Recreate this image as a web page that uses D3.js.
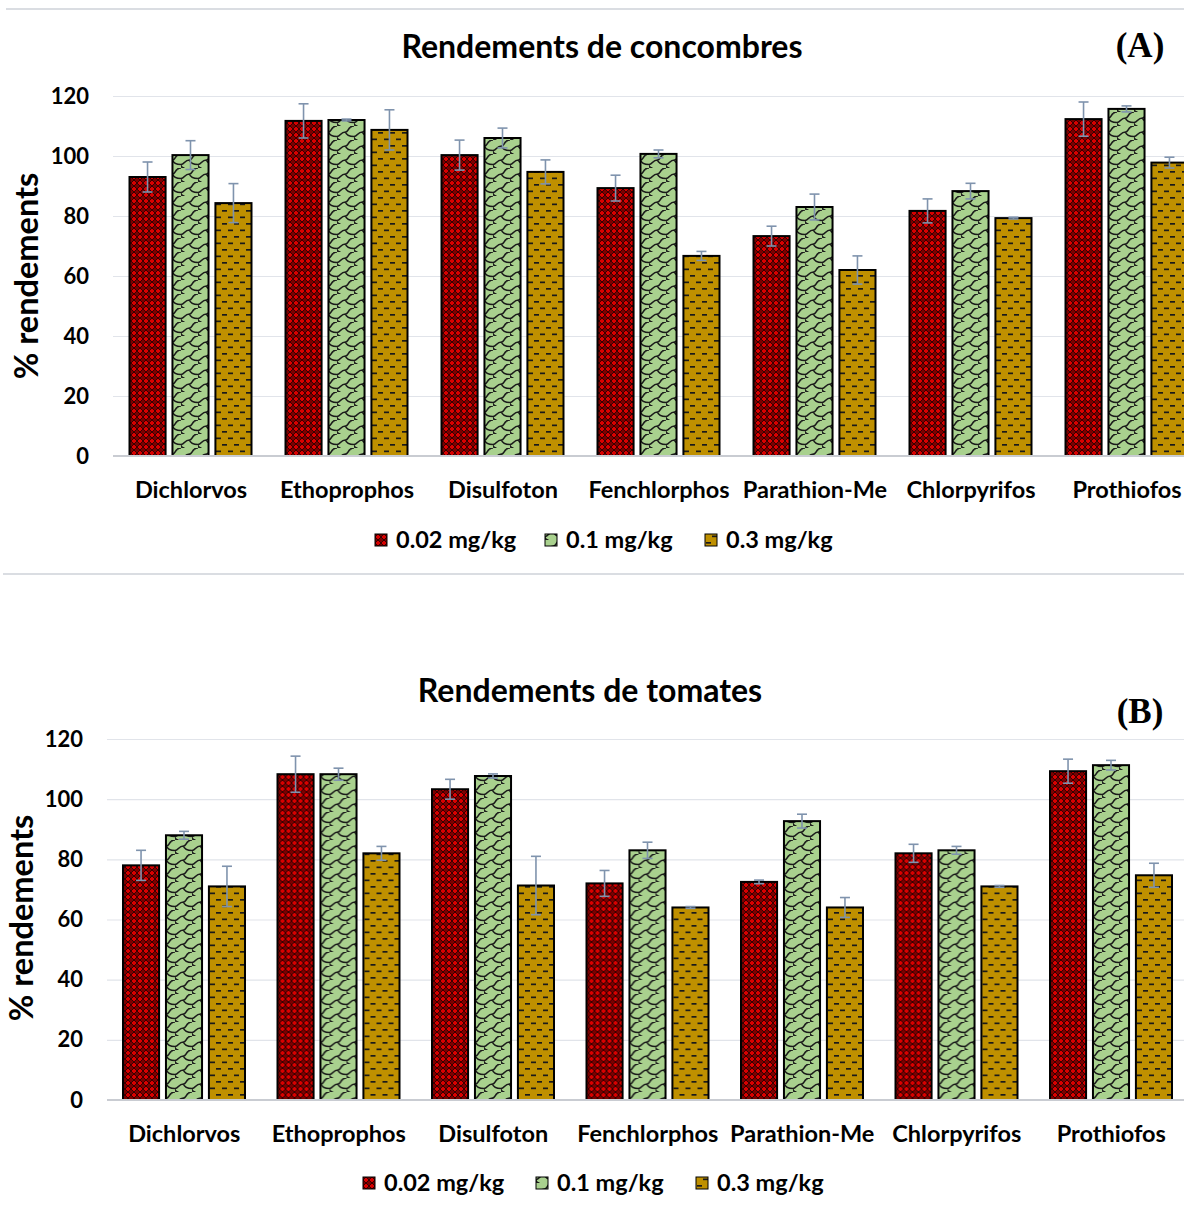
<!DOCTYPE html>
<html>
<head>
<meta charset="utf-8">
<script src="https://cdn.jsdelivr.net/npm/d3@7"></script>
<style>
  body { margin: 0; background: #fff; }
  svg { display: block; font-family: Lato, 'Open Sans', sans-serif; }
</style>
</head>
<body>
<div id="chart"></div>
<script>
// data
var categories = ['Dichlorvos', 'Ethoprophos', 'Disulfoton', 'Fenchlorphos', 'Parathion-Me', 'Chlorpyrifos', 'Prothiofos'];
var seriesLabels = ['0.02 mg/kg', '0.1 mg/kg', '0.3 mg/kg'];
var yTicks = [0, 20, 40, 60, 80, 100, 120];

// (A) concombres
var concombres002 = [93, 111.7, 100.3, 89.3, 73.3, 81.7, 112.3];
var concombres01  = [100.3, 112, 106, 100.7, 83, 88.3, 115.7];
var concombres03  = [84.3, 108.7, 94.7, 66.7, 62, 79.3, 97.8];
var concombresErr002 = [5, 5.7, 5, 4.3, 3.3, 4, 5.7];
var concombresErr01  = [4.8, 0.3, 3.3, 1.3, 4.3, 2.6, 1];
var concombresErr03  = [6.5, 6.7, 4, 1.5, 4.7, 0.3, 1.8];

// (B) tomates
var tomates002 = [78, 108.3, 103.3, 72, 72.5, 82, 109.3];
var tomates01  = [88, 108.3, 107.7, 83, 92.7, 83, 111.3];
var tomates03  = [71, 82, 71.3, 64, 64, 71, 74.7];
var tomatesErr002 = [5, 6, 3.3, 4.3, 0.6, 3, 4];
var tomatesErr01  = [1.3, 2, 0.7, 2.7, 2.3, 1.3, 1.6];
var tomatesErr03  = [6.7, 2.3, 9.7, 0.3, 3.3, 0.3, 4];

var width = 1184, height = 1209;
var fills = ['url(#patRed)', 'url(#patGreen)', 'url(#patGold)'];

var svg = d3.select('#chart').append('svg')
  .attr('width', width)
  .attr('height', height);

svg.append('rect').attr('width', width).attr('height', height).attr('fill', '#fff');

// patterns
var defs = svg.append('defs');

var pr = defs.append('pattern').attr('id', 'patRed')
  .attr('patternUnits', 'userSpaceOnUse').attr('width', 6).attr('height', 6);
pr.append('rect').attr('width', 6).attr('height', 6).attr('fill', '#7a0000');
pr.append('path').attr('d', 'M0,3L3,0L6,3L3,6Z').attr('fill', '#d80000')
  .attr('stroke', '#1a0000').attr('stroke-width', 0.8);

var pg = defs.append('pattern').attr('id', 'patGreen')
  .attr('patternUnits', 'userSpaceOnUse').attr('width', 17).attr('height', 14);
pg.append('rect').attr('width', 17).attr('height', 14).attr('fill', '#a9d18e');
pg.append('path')
  .attr('d', 'M0,10.5 C3.5,10.5 3.5,6 8.5,6 C11,6 11,2.5 13.5,1.2 M8.5,6 C9.5,9.5 13.5,10.5 17,10.5 M13.5,1.2 C14.5,0 17,0 17,0 M0,10.5 C0,13 1.2,14 3.5,14')
  .attr('fill', 'none').attr('stroke', '#1a1a1a').attr('stroke-width', 1.6);

var pd = defs.append('pattern').attr('id', 'patGold')
  .attr('patternUnits', 'userSpaceOnUse').attr('width', 12).attr('height', 13);
pd.append('rect').attr('width', 12).attr('height', 13).attr('fill', '#bf9000');
pd.append('rect').attr('x', 1).attr('y', 2).attr('width', 5).attr('height', 1.7).attr('fill', '#1a1a1a');
pd.append('rect').attr('x', 7).attr('y', 8.5).attr('width', 5).attr('height', 1.7).attr('fill', '#1a1a1a');

// frame separators
svg.append('line').attr('x1', 6).attr('x2', width).attr('y1', 9).attr('y2', 9)
  .attr('stroke', '#dadde2').attr('stroke-width', 2);
svg.append('line').attr('x1', 3).attr('x2', width).attr('y1', 574).attr('y2', 574)
  .attr('stroke', '#dadde2').attr('stroke-width', 2);

function drawPanel(p) {
  var g = svg.append('g');

  var x = d3.scaleBand().domain(categories).range([p.left, p.left + p.step * categories.length]);
  var xs = d3.scaleBand().domain(seriesLabels).range([p.groupStart, p.groupStart + 122]).paddingInner(0.16);
  var y = d3.scaleLinear().domain([0, 120]).range([p.bottom, p.top]);

  // gridlines + y labels
  var yAxis = g.append('g')
    .attr('transform', 'translate(' + p.left + ',0)')
    .call(d3.axisLeft(y).tickValues(yTicks).tickSizeInner(-(width - p.left)).tickSizeOuter(0).tickPadding(24));
  yAxis.select('.domain').remove();
  yAxis.selectAll('.tick line').attr('stroke', '#e1e4ea').attr('stroke-width', 1.2);
  yAxis.selectAll('.tick text')
    .style('font-family', 'Lato, sans-serif').style('font-size', '22px').style('font-weight', 700).attr('fill', '#000');

  // bars
  var rows = categories.map(function(c, i) {
    return p.values.map(function(v, k) {
      return { cat: c, series: seriesLabels[k], value: v[i], err: p.errors[k][i], k: k };
    });
  });

  var groups = g.selectAll('.grp').data(rows).enter().append('g')
    .attr('class', 'grp')
    .attr('transform', function(d) { return 'translate(' + x(d[0].cat) + ',0)'; });

  groups.selectAll('rect').data(function(d) { return d; }).enter().append('rect')
    .attr('x', function(d) { return xs(d.series); })
    .attr('y', function(d) { return y(d.value); })
    .attr('width', xs.bandwidth())
    .attr('height', function(d) { return y(0) - y(d.value); })
    .attr('fill', function(d) { return fills[d.k]; })
    .attr('stroke', '#000').attr('stroke-width', 2);

  // x baseline
  var xAxis = g.append('g')
    .attr('transform', 'translate(0,' + p.bottom + ')')
    .call(d3.axisBottom(x).tickSize(0).tickPadding(25));
  xAxis.select('.domain').attr('stroke', '#c9ccd2').attr('stroke-width', 2)
    .attr('d', 'M' + p.left + ',0H' + width);
  xAxis.selectAll('.tick text')
    .style('font-family', 'Lato, sans-serif').style('font-size', '23.5px').style('font-weight', 700).attr('fill', '#000');

  // error bars
  var eb = groups.selectAll('.err').data(function(d) { return d; }).enter().append('g').attr('class', 'err')
    .attr('stroke', '#7f93ad').attr('stroke-width', 1.6);
  eb.append('line')
    .attr('x1', function(d) { return xs(d.series) + xs.bandwidth() / 2; })
    .attr('x2', function(d) { return xs(d.series) + xs.bandwidth() / 2; })
    .attr('y1', function(d) { return y(d.value + d.err); })
    .attr('y2', function(d) { return y(d.value - d.err); });
  [1, -1].forEach(function(s) {
    eb.append('line')
      .attr('x1', function(d) { return xs(d.series) + xs.bandwidth() / 2 - 5; })
      .attr('x2', function(d) { return xs(d.series) + xs.bandwidth() / 2 + 5; })
      .attr('y1', function(d) { return y(d.value + s * d.err); })
      .attr('y2', function(d) { return y(d.value + s * d.err); });
  });

  // titles
  g.append('text').attr('x', p.titleX).attr('y', p.titleY).attr('text-anchor', 'middle')
    .style('font-size', '32px').style('font-weight', 700).text(p.title);
  g.append('text').attr('x', p.tagX).attr('y', p.tagY).attr('text-anchor', 'middle')
    .style('font-family', "'Liberation Serif', serif").style('font-size', '35px').style('font-weight', 700)
    .text(p.tag);
  g.append('text')
    .attr('transform', 'translate(' + p.yTitleX + ',' + p.yTitleY + ') rotate(-90)')
    .attr('text-anchor', 'middle').attr('dy', '0.35em')
    .style('font-size', '32.5px').style('font-weight', 700).text('% rendements');

  // legend
  var leg = g.selectAll('.leg').data(seriesLabels).enter().append('g').attr('class', 'leg')
    .attr('transform', function(d, i) { return 'translate(' + p.legendX[i] + ',' + p.legendY + ')'; });
  leg.append('rect').attr('x', 0).attr('y', -6).attr('width', 12).attr('height', 12)
    .attr('fill', function(d, i) { return fills[i]; }).attr('stroke', '#000').attr('stroke-width', 1);
  leg.append('text').attr('x', 21).attr('dy', '0.36em')
    .style('font-size', '23.5px').style('font-weight', 700).text(function(d) { return d; });
}

drawPanel({
  title: 'Rendements de concombres', tag: '(A)',
  values: [concombres002, concombres01, concombres03],
  errors: [concombresErr002, concombresErr01, concombresErr03],
  left: 113, step: 156, groupStart: 16.5, top: 96, bottom: 456,
  titleX: 602, titleY: 58, tagX: 1140, tagY: 57,
  yTitleX: 27, yTitleY: 276,
  legendX: [375, 545, 705], legendY: 540
});

drawPanel({
  title: 'Rendements de tomates', tag: '(B)',
  values: [tomates002, tomates01, tomates03],
  errors: [tomatesErr002, tomatesErr01, tomatesErr03],
  left: 107, step: 154.5, groupStart: 16, top: 739, bottom: 1100,
  titleX: 590, titleY: 702, tagX: 1140, tagY: 723,
  yTitleX: 22, yTitleY: 918,
  legendX: [363, 536, 696], legendY: 1183
});
</script>
</body>
</html>
